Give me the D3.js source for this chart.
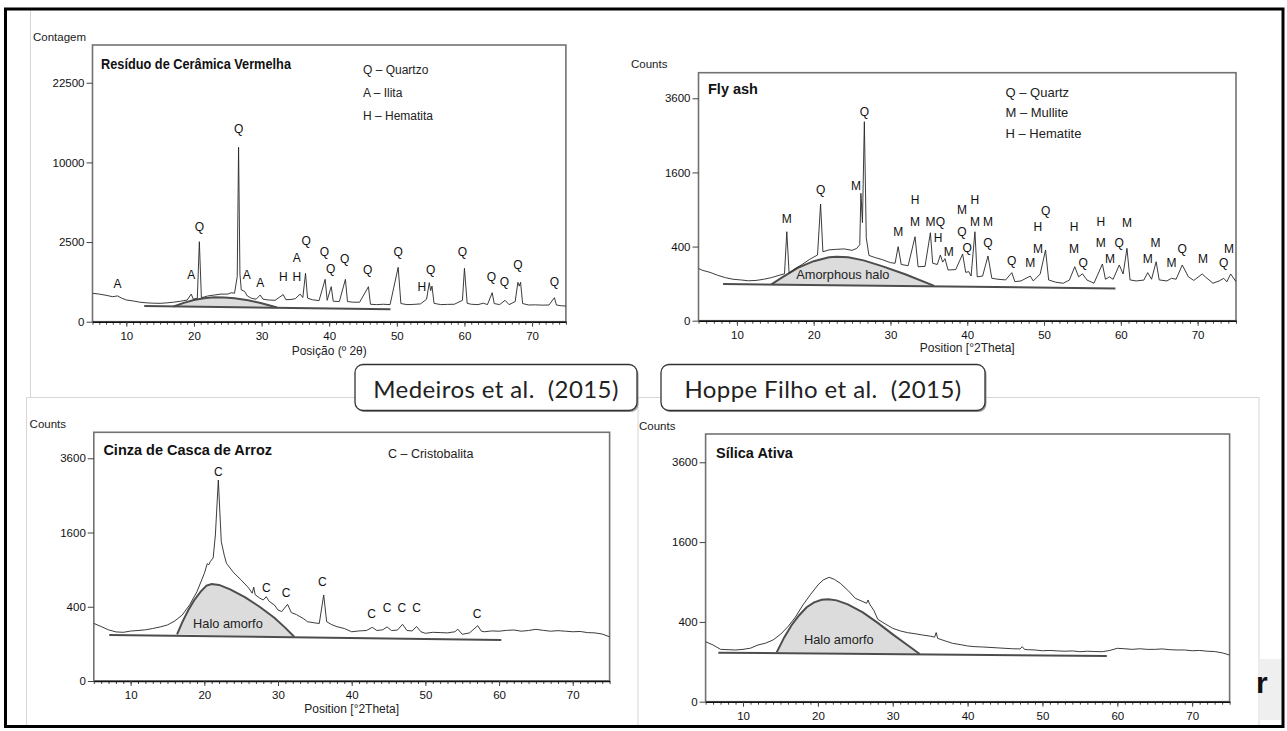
<!DOCTYPE html>
<html>
<head>
<meta charset="utf-8">
<script src="https://cdn.jsdelivr.net/npm/d3@7"></script>
<style>
  body { margin: 0; background: #fff; }
  svg { display: block; font-family: "Liberation Sans", Arial, sans-serif; }
</style>
</head>
<body>
<svg id="chart" width="1287" height="731"></svg>
<script>
// tick labels
const xTicks = [10, 20, 30, 40, 50, 60, 70];
const yTicksCeramica = [0, 2500, 10000, 22500];
const yTicksCounts = [0, 400, 1600, 3600];

// diffractograms, [2theta, counts]
const ceramicaTrace = [[5,318],[6,300],[7,275],[8,246],[8.7,262],[9.3,220],[10,186],[11,170],[12,150],[13,140],[14,135],[15,133],[16,140],[17,150],[18,165],[19,185],[19.6,300],[19.9,200],[20.5,216],[20.8,2520],[21.1,230],[21.5,240],[22,260],[23,280],[24,300],[25,300],[25.5,330],[26,320],[26.4,800],[26.6,11990],[26.8,900],[27,400],[27.5,360],[27.9,260],[28.5,216],[29.2,200],[29.8,280],[30.2,200],[31,186],[32,180],[33.2,290],[33.6,190],[34.5,197],[35,210],[35.7,300],[36.1,230],[36.5,924],[36.8,220],[37.5,190],[38.5,175],[39.4,708],[39.7,180],[40.3,483],[40.6,165],[41.5,160],[42.4,708],[42.7,160],[43.5,150],[44.5,150],[45.8,483],[46.1,120],[47,115],[48,120],[49,115],[50.2,1166],[50.6,130],[51.5,115],[52.5,118],[53.5,125],[54.4,200],[54.8,600],[55,380],[55.2,500],[55.5,133],[56.5,115],[57.5,118],[58.5,120],[59.7,180],[60,1124],[60.4,133],[61,120],[62,115],[62.8,135],[63.4,115],[64.1,331],[64.4,130],[65.2,115],[66,180],[66.6,115],[67.5,160],[67.9,611],[68.1,500],[68.3,611],[68.6,130],[69.5,110],[70.5,112],[71.5,108],[72.5,110],[73.3,227],[73.6,110],[74.3,100],[75,97]];
const flyAshTrace = [[5,199],[5.5,185],[6.5,170],[7.5,150],[8.5,135],[9.5,125],[10.5,121],[11.5,116],[12.5,118],[13.5,125],[14.5,135],[15.5,150],[16.2,160],[16.5,576],[16.8,165],[17.5,195],[18.5,230],[19.5,275],[20.5,314],[20.9,991],[21.2,346],[22,365],[23,371],[24,375],[25,360],[25.6,380],[26,420],[26.15,1181],[26.35,700],[26.6,2882],[26.85,500],[27.2,310],[28,290],[29,270],[30,245],[30.6,240],[31,399],[31.4,230],[32.3,220],[33.2,513],[33.6,212],[34.5,215],[35.2,563],[35.5,240],[36.1,230],[36.5,314],[36.8,250],[37.1,280],[37.5,187],[38.5,190],[39.4,324],[39.8,170],[40.2,175],[40.5,145],[41,576],[41.3,140],[42,145],[42.7,305],[43.2,131],[44,125],[45,121],[45.8,168],[46.2,111],[47,115],[48.2,145],[48.6,115],[49.5,159],[50.2,364],[50.6,121],[51.5,108],[52.5,102],[53.3,120],[54,212],[54.5,140],[55,160],[55.6,120],[56.5,102],[57.6,234],[58,125],[58.5,140],[59,125],[59.8,226],[60.3,159],[60.8,381],[61.2,121],[62,115],[63,120],[63.5,168],[64,125],[64.6,253],[65,121],[66,115],[66.6,131],[67.2,125],[68,226],[68.8,140],[69.5,118],[70.6,159],[71,140],[72,102],[72.8,115],[73.4,131],[73.8,110],[74.3,159],[75,111]];
const cinzaTrace = [[5,241],[6,215],[7,190],[8,175],[9,172],[10,181],[11,185],[12,190],[13,200],[14,212],[15,228],[16,262],[17,316],[18,420],[19,579],[20,840],[20.4,1000],[20.6,980],[20.8,1033],[21.2,1100],[21.5,1547],[21.9,2932],[22.3,1409],[22.7,1150],[23,1005],[24,850],[25,740],[26,630],[26.5,560],[26.7,640],[26.9,540],[27.5,500],[28,476],[28.4,516],[28.8,460],[29.5,420],[30,366],[30.5,350],[31.3,427],[31.8,340],[32.5,320],[33.5,280],[34,255],[35,245],[35.6,240],[36.2,537],[36.6,255],[37.3,230],[38,214],[39,200],[40,176],[41,182],[42,185],[42.8,209],[43.4,185],[44.2,190],[44.8,212],[45.4,185],[46.2,188],[46.9,233],[47.5,185],[48.2,182],[48.8,215],[49.4,176],[50,165],[51,172],[52,170],[53,168],[54,176],[54.4,195],[55,158],[56,168],[57.1,222],[57.6,180],[58,176],[59,182],[60,180],[61,186],[62,189],[63,180],[64,185],[65,194],[66,186],[67,180],[68,184],[69,180],[70,176],[71,178],[72,170],[73,168],[74,160],[75,142]];
const silicaTrace = [[5,226],[6,202],[7,172],[8,170],[9,168],[10,172],[11,180],[12,202],[13,215],[14,239],[15,285],[16,353],[17,450],[18,587],[19,720],[20,855],[20.7,930],[21.5,972],[22.2,940],[23,880],[24,780],[25,671],[26,630],[26.5,608],[26.7,650],[26.9,600],[27.5,520],[28,426],[29,380],[30,338],[31,315],[32,299],[33,290],[34,279],[35,270],[35.6,262],[35.8,300],[36,252],[37,232],[38,214],[39,205],[40,195],[41,190],[42,188],[43,185],[44,182],[45,179],[46,176],[47,175],[47.3,190],[47.6,172],[48,170],[49,168],[50,163],[51,165],[52,162],[53,160],[54,162],[55,157],[56,160],[57,158],[58,157],[59,165],[60,179],[61,176],[62,172],[63,176],[64,172],[65,172],[66,175],[67,170],[68,168],[69,168],[70,163],[71,165],[72,160],[73,158],[74,150],[75,137]];

// amorphous halo outlines and their base lines
const ceramicaHalo = [[17,91],[18.5,140],[20,185],[21.5,215],[23,235],[24.5,232],[26,215],[28,180],[30,135],[32.3,80]];
const ceramicaBase = [[12.65,97],[49.06,61]];
const flyAshHalo = [[14.5,96],[16,140],[18,205],[20,258],[22,292],[23,298],[24.5,292],[26.5,265],[29,215],[32,155],[35.7,88]];
const flyAshBase = [[8.2,98],[59.3,76]];
const cinzaHalo = [[16.3,158],[17,250],[17.8,360],[18.6,470],[19.5,580],[20.3,660],[21,683],[22,670],[23.5,610],[25.5,510],[27.5,400],[29.5,290],[31,205],[32.2,142]];
const cinzaBase = [[7.1,154],[60.3,122]];
const silicaHalo = [[14.5,153],[15.5,260],[16.5,370],[17.5,470],[18.5,560],[19.5,620],[20.5,652],[21.4,659],[22.5,645],[24,595],[26,500],[28,390],[30,285],[32,200],[33.6,143]];
const silicaBase = [[6.7,151],[58.6,131]];

// peak letters, [2theta, counts, letter]
const ceramicaPeaks = [[8.69,581,"A"],[19.6,858,"A"],[20.8,3516,"Q"],[26.6,14738,"Q"],[27.8,858,"A"],[29.8,610,"A"],[33.2,795,"H"],[35.2,795,"H"],[35.2,1632,"A"],[36.6,2581,"Q"],[39.3,1927,"Q"],[40.2,1122,"Q"],[42.3,1584,"Q"],[45.7,1056,"Q"],[50.2,1899,"Q"],[53.7,483,"H"],[55.0,1056,"Q"],[59.7,1899,"Q"],[64.0,798,"Q"],[65.9,630,"Q"],[67.9,1267,"Q"],[73.3,630,"Q"]];
const flyAshPeaks = [[16.5,762,"M"],[20.9,1253,"Q"],[25.5,1318,"M"],[26.6,3181,"Q"],[31.0,576,"M"],[33.2,1063,"H"],[33.2,713,"M"],[35.2,713,"M"],[36.5,713,"Q"],[36.2,506,"H"],[37.6,346,"M"],[39.3,894,"M"],[39.3,576,"Q"],[40.0,388,"Q"],[41.0,1063,"H"],[41.0,713,"M"],[42.7,713,"M"],[42.7,441,"Q"],[45.8,262,"Q"],[48.2,240,"M"],[49.2,645,"H"],[49.2,380,"M"],[50.2,882,"Q"],[53.9,645,"H"],[53.9,380,"M"],[55.1,240,"Q"],[57.4,713,"H"],[57.4,441,"M"],[58.6,282,"M"],[59.8,441,"Q"],[60.8,692,"M"],[63.5,282,"M"],[64.5,441,"M"],[66.6,240,"M"],[68.0,380,"Q"],[70.7,282,"M"],[73.4,240,"Q"],[74.1,380,"M"]];
const cinzaPeaks = [[21.9,3181,"C"],[28.4,630,"C"],[31.1,566,"C"],[36.0,718,"C"],[42.7,324,"C"],[44.8,384,"C"],[46.8,384,"C"],[48.8,384,"C"],[57.0,324,"C"]];

const ceramicaLegend = ["Q – Quartzo", "A – Ilita", "H – Hematita"];
const flyAshLegend = ["Q – Quartz", "M – Mullite", "H – Hematite"];
const cinzaLegend = ["C – Cristobalita"];

const svg = d3.select("#chart");

// edges of the pasted images
let edges = svg.append("g").attr("stroke", "#d6d6d6").attr("stroke-width", 1);
edges.append("line").attr("x1", 30.5).attr("y1", 10).attr("x2", 30.5).attr("y2", 397);
edges.append("line").attr("x1", 26.5).attr("y1", 397.5).attr("x2", 1259).attr("y2", 397.5);
edges.append("line").attr("x1", 26.5).attr("y1", 397).attr("x2", 26.5).attr("y2", 727);
edges.append("line").attr("x1", 638).attr("y1", 397).attr("x2", 638).attr("y2", 727);
edges.append("line").attr("x1", 1259).attr("y1", 397).attr("x2", 1259).attr("y2", 727);
svg.append("rect").attr("x", 1259.5).attr("y", 659).attr("width", 22).attr("height", 61).attr("fill", "#efefef");
svg.append("text").attr("x", 1256).attr("y", 693).style("font-size", "30px").style("font-weight", "bold")
    .attr("fill", "#111").text("r");

const panels = [
  {name: "ceramica", left: 92.5, right: 565.9, top: 45, bottom: 321.7, yMax: 30172, yTicks: yTicksCeramica,
   trace: ceramicaTrace, halo: ceramicaHalo, base: ceramicaBase, peaks: ceramicaPeaks,
   title: "Resíduo de Cerâmica Vermelha", titleX: 101, titleY: 69, titleLen: 190,
   yLabel: "Contagem", yLabelX: 33, yLabelY: 40.5,
   xLabel: "Posição (º 2θ)", xLabelY: 355,
   legend: ceramicaLegend, legendX: 363, legendY: 73.5, legendStep: 23, legendSize: 12},
  {name: "flyash", left: 698.5, right: 1236, top: 72.7, bottom: 320.7, yMax: 4476, yTicks: yTicksCounts,
   trace: flyAshTrace, halo: flyAshHalo, base: flyAshBase, peaks: flyAshPeaks,
   haloLabel: "Amorphous halo", haloLabelPos: [23.8, 152],
   title: "Fly ash", titleX: 708, titleY: 94,
   yLabel: "Counts", yLabelX: 631, yLabelY: 68,
   xLabel: "Position [°2Theta]", xLabelY: 352,
   legend: flyAshLegend, legendX: 1005.5, legendY: 97, legendStep: 20.3, legendSize: 13},
  {name: "cinza", left: 93.8, right: 609.6, top: 432.3, bottom: 681, yMax: 4489, yTicks: yTicksCounts,
   trace: cinzaTrace, halo: cinzaHalo, base: cinzaBase, peaks: cinzaPeaks,
   haloLabel: "Halo amorfo", haloLabelPos: [23.2, 241],
   title: "Cinza de Casca de Arroz", titleX: 103.4, titleY: 455,
   yLabel: "Counts", yLabelX: 29.6, yLabelY: 428,
   xLabel: "Position [°2Theta]", xLabelY: 713,
   legend: cinzaLegend, legendX: 388, legendY: 458.3, legendStep: 20, legendSize: 12.5},
  {name: "silica", left: 705.6, right: 1229.6, top: 434, bottom: 701.7, yMax: 4501, yTicks: yTicksCounts,
   trace: silicaTrace, halo: silicaHalo, base: silicaBase, peaks: [],
   haloLabel: "Halo amorfo", haloLabelPos: [22.8, 245],
   title: "Sílica Ativa", titleX: 716, titleY: 457.5,
   yLabel: "Counts", yLabelX: 639, yLabelY: 430,
   legend: []}
];

panels.forEach(drawPanel);

function drawPanel(p) {
  let x = d3.scaleLinear().domain([5, 75]).range([p.left, p.right]);
  let y = d3.scaleSqrt().domain([0, p.yMax]).range([p.bottom, p.top]);
  let line = d3.line().x(d => x(d[0])).y(d => y(d[1]));

  let g = svg.append("g");

  g.append("clipPath").attr("id", "clip-" + p.name)
    .append("rect")
      .attr("x", p.left).attr("y", p.top)
      .attr("width", p.right - p.left).attr("height", p.bottom - p.top);

  g.append("rect")
    .attr("x", p.left).attr("y", p.top)
    .attr("width", p.right - p.left).attr("height", p.bottom - p.top)
    .attr("fill", "#fff")
    .attr("stroke", "#727272")
    .attr("stroke-width", 1.6);

  // halo
  g.append("path")
    .attr("d", line(p.halo) + "Z")
    .attr("fill", "#dcdcdc")
    .attr("stroke", "none");
  g.append("path")
    .attr("d", line(p.halo))
    .attr("fill", "none")
    .attr("stroke", "#4d4d4d")
    .attr("stroke-width", 2);
  g.append("path")
    .attr("d", line(p.base))
    .attr("fill", "none")
    .attr("stroke", "#4d4d4d")
    .attr("stroke-width", 2);

  if (p.haloLabel) {
    g.append("text")
      .attr("x", x(p.haloLabelPos[0]))
      .attr("y", y(p.haloLabelPos[1]))
      .attr("dy", "0.35em")
      .style("text-anchor", "middle")
      .style("font-size", "12.8px")
      .attr("fill", "#222")
      .text(p.haloLabel);
  }

  g.append("path")
    .attr("clip-path", "url(#clip-" + p.name + ")")
    .attr("d", line(p.trace))
    .attr("fill", "none")
    .attr("stroke", "#262626")
    .attr("stroke-width", 0.9)
    .attr("stroke-linejoin", "round");

  // axes
  let minor = g.append("g")
    .attr("transform", `translate(0,${p.bottom})`)
    .call(d3.axisBottom(x).tickValues(d3.range(5, 76)).tickSize(3).tickFormat("").tickSizeOuter(0));
  minor.select(".domain").remove();

  let xAxis = g.append("g")
    .attr("transform", `translate(0,${p.bottom})`)
    .call(d3.axisBottom(x).tickValues(xTicks).tickSize(5).tickPadding(5).tickSizeOuter(0));
  xAxis.select(".domain").attr("stroke", "#111").attr("stroke-width", 1.5);

  let yAxis = g.append("g")
    .attr("transform", `translate(${p.left},0)`)
    .call(d3.axisLeft(y).tickValues(p.yTicks).tickSize(6).tickPadding(2).tickFormat(d3.format("d")));
  yAxis.select(".domain").remove();

  g.selectAll(".tick line").attr("stroke", "#444");
  g.selectAll(".tick text")
    .attr("fill", "#111")
    .style("font-family", "'Liberation Sans', Arial, sans-serif")
    .style("font-size", "11.5px");

  // texts
  let title = g.append("text")
    .attr("x", p.titleX).attr("y", p.titleY)
    .style("font-size", "14.5px")
    .style("font-weight", "bold")
    .attr("fill", "#111")
    .text(p.title);
  if (p.titleLen) title.attr("textLength", p.titleLen).attr("lengthAdjust", "spacingAndGlyphs");

  g.selectAll(".legend").data(p.legend).join("text")
    .attr("x", p.legendX)
    .attr("y", (d, i) => p.legendY + i * p.legendStep)
    .style("font-size", p.legendSize + "px")
    .attr("fill", "#222")
    .text(d => d);

  g.selectAll(".peak").data(p.peaks).join("text")
    .attr("x", d => x(d[0]))
    .attr("y", d => y(d[1]))
    .attr("dy", "0.35em")
    .style("text-anchor", "middle")
    .style("font-size", "12px")
    .attr("fill", "#111")
    .text(d => d[2]);

  g.append("text")
    .attr("x", p.yLabelX).attr("y", p.yLabelY)
    .style("font-size", "11.5px")
    .attr("fill", "#222")
    .text(p.yLabel);

  if (p.xLabel) {
    g.append("text")
      .attr("x", (p.left + p.right) / 2).attr("y", p.xLabelY)
      .style("text-anchor", "middle")
      .style("font-size", "12px")
      .attr("fill", "#222")
      .text(p.xLabel);
  }
}

// reference boxes
const refs = [
  {text: "Medeiros et al.  (2015)", x: 355, w: 282},
  {text: "Hoppe Filho et al.  (2015)", x: 661, w: 324}
];
refs.forEach(function(r) {
  svg.append("rect").attr("x", r.x + 1.5).attr("y", 366).attr("width", r.w).attr("height", 46)
    .attr("rx", 8).attr("fill", "#9a9a9a");
  svg.append("rect").attr("x", r.x).attr("y", 364.5).attr("width", r.w).attr("height", 46)
    .attr("rx", 8).attr("fill", "#fff").attr("stroke", "#333").attr("stroke-width", 1.3);
  svg.append("text").attr("x", r.x + r.w / 2).attr("y", 398)
    .style("text-anchor", "middle")
    .style("font-family", "Lato, 'Noto Sans', sans-serif")
    .style("font-size", "24px")
    .style("letter-spacing", "0.4px")
    .style("white-space", "pre")
    .attr("fill", "#222")
    .text(r.text);
});

// outer frame
svg.append("rect").attr("x", 5.5).attr("y", 9).attr("width", 1277.5).attr("height", 717.5)
  .attr("fill", "none").attr("stroke", "#000").attr("stroke-width", 3);
</script>
</body>
</html>
